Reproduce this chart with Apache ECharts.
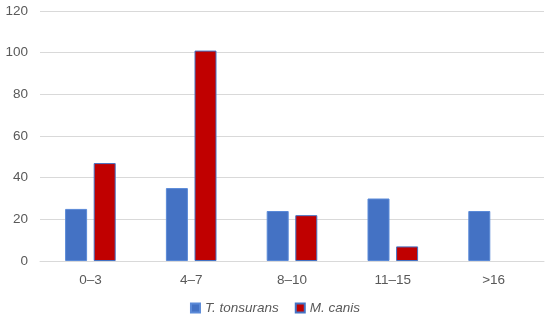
<!DOCTYPE html>
<html>
<head>
<meta charset="utf-8">
<script src="https://cdn.jsdelivr.net/npm/echarts@6/dist/echarts.min.js"></script>
<style>
  html, body { margin: 0; padding: 0; background: #fff; }
  #chart { width: 550px; height: 324px; }
</style>
</head>
<body>
<div id="chart"></div>
<script>
const categories = ['0–3', '4–7', '8–10', '11–15', '>16']
const tonsurans = [25, 35, 24, 30, 24]
// no M. canis bar is drawn for >16
const canis = [47, 101, 22, 7, null]

const myChart = echarts.init(document.getElementById('chart'))

const option = {
  animation: false,
  textStyle: { fontFamily: 'Liberation Sans, Arial, sans-serif' },
  grid: { left: 40, right: 6, top: 11, bottom: 63 },
  legend: {
    bottom: 4,
    left: 'center',
    icon: 'rect',
    itemWidth: 9,
    itemHeight: 9,
    itemGap: 16,
    textStyle: { color: '#595959', fontSize: 13.5, fontStyle: 'italic' },
    data: ['T. tonsurans', 'M. canis']
  },
  xAxis: {
    type: 'category',
    data: categories,
    axisLine: { lineStyle: { color: '#d9d9d9', width: 1 } },
    axisTick: { show: false },
    axisLabel: { color: '#595959', fontSize: 13.5, margin: 12 }
  },
  yAxis: {
    type: 'value',
    min: 0,
    max: 120,
    interval: 20,
    axisLine: { show: false },
    axisTick: { show: false },
    axisLabel: { color: '#595959', fontSize: 13.5, margin: 12 },
    splitLine: { lineStyle: { color: '#d9d9d9' } }
  },
  series: [
    {
      name: 'T. tonsurans',
      type: 'bar',
      data: tonsurans,
      barWidth: 22,
      barGap: '30%',
      itemStyle: { color: '#4472c4', borderColor: '#5b8ad8', borderWidth: 1 }
    },
    {
      name: 'M. canis',
      type: 'bar',
      data: canis,
      barWidth: 22,
      itemStyle: { color: '#c00000', borderColor: '#4472c4', borderWidth: 1 }
    }
  ]
}

myChart.setOption(option)
</script>
</body>
</html>
